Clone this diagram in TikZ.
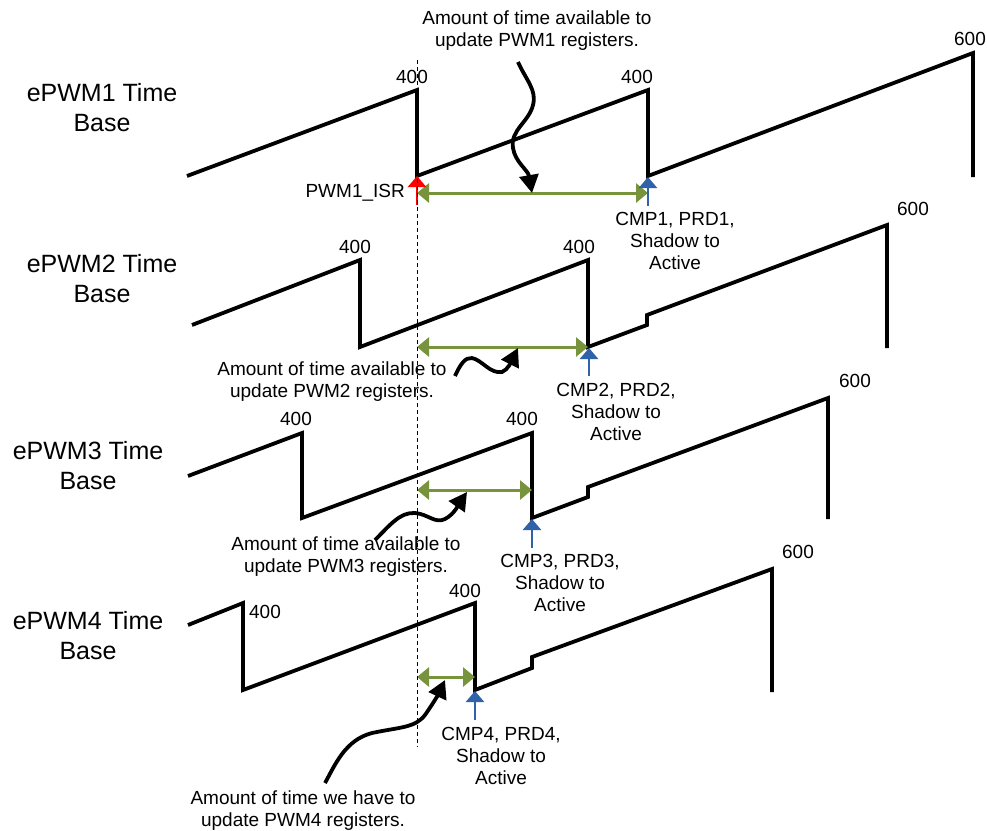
\documentclass[tikz,border=0pt]{standalone}
\usepackage{fontspec}
\setmainfont{Liberation Sans}
\usetikzlibrary{arrows.meta}
\definecolor{pgreen}{HTML}{77933C}
\definecolor{pblue}{HTML}{2F62A8}
\definecolor{pred}{HTML}{FF0000}
\begin{document}
\begin{tikzpicture}[x=1pt,y=-1pt,
  wave/.style={line width=3.8pt,line join=miter},
  lbl/.style={font=\fontsize{25}{30}\selectfont,align=center,inner sep=0pt},
  note/.style={font=\fontsize{19}{22}\selectfont,align=center,inner sep=0pt},
  num/.style={font=\fontsize{19}{22}\selectfont,inner sep=0pt,anchor=base},
  span/.style={draw=pgreen,line width=3pt,{Triangle[length=12pt,width=19pt]}-{Triangle[length=12pt,width=19pt]}},
  bluearr/.style={draw=pblue,line width=2.6pt,-{Triangle[length=11pt,width=18pt]}},
  redarr/.style={draw=pred,line width=2.6pt,-{Triangle[length=11pt,width=18pt]}},
  curly/.style={line width=3.8pt,-{Triangle[length=18pt,width=19pt]}},
  guide/.style={line width=0.8pt,dash pattern=on 4pt off 3pt}
]
\useasboundingbox (0,0) rectangle (987,830);

% left labels
\node[lbl] (t1) at (102,108) {ePWM1 Time\\Base};
\node[lbl] (t2) at (102,279) {ePWM2 Time\\Base};
\node[lbl] (t3) at (88,466) {ePWM3 Time\\Base};
\node[lbl] (t4) at (88,636) {ePWM4 Time\\Base};

% waveforms
\draw[wave] (187,176) -- (417,90) -- (417,176) -- (648,90) -- (648,176) -- (973,53) -- (973,177);
\draw[wave] (192,325) -- (360,260) -- (360,347) -- (588,260) -- (588,347) -- (647,325) -- (647,315) -- (887,225) -- (887,348);
\draw[wave] (188,476) -- (302,433) -- (302,518) -- (532,433) -- (532,518) -- (588,497) -- (588,487) -- (828,398) -- (828,519);
\draw[wave] (188,625) -- (243,603) -- (243,690) -- (475,603) -- (475,690) -- (532,668) -- (532,657) -- (772,569) -- (772,692);

% value labels
\node[num] (n1a) at (412,83) {400};
\node[num] (n1b) at (637,83) {400};
\node[num] (n1c) at (970,45) {600};
\node[num] (n2a) at (355,253) {400};
\node[num] (n2b) at (579,253) {400};
\node[num] (n2c) at (913,215) {600};
\node[num] (n3a) at (296,425) {400};
\node[num] (n3b) at (522,425) {400};
\node[num] (n3c) at (855,387) {600};
\node[num] (n4a) at (265,618) {400};
\node[num] (n4b) at (465,597) {400};
\node[num] (n4c) at (798,558) {600};

% coordinates for spans and markers
\coordinate (g1l) at (417,193); \coordinate (g1r) at (648,193);
\coordinate (g2l) at (417,347); \coordinate (g2r) at (588,347);
\coordinate (g3l) at (417,490); \coordinate (g3r) at (532,490);
\coordinate (g4l) at (417,677); \coordinate (g4r) at (475,677);

\coordinate (r1b) at (417,205); \coordinate (r1t) at (417,176);
\coordinate (b1b) at (648,206); \coordinate (b1t) at (648,177);
\coordinate (b2b) at (589,376); \coordinate (b2t) at (589,348);
\coordinate (b3b) at (532,548); \coordinate (b3t) at (532,519);
\coordinate (b4b) at (475,720); \coordinate (b4t) at (475,691);

% green spans
\draw[span] (g1l) -- (g1r);
\draw[span] (g2l) -- (g2r);
\draw[span] (g3l) -- (g3r);
\draw[span] (g4l) -- (g4r);

% event arrows
\draw[redarr] (r1b) -- (r1t);
\draw[bluearr] (b1b) -- (b1t);
\draw[bluearr] (b2b) -- (b2t);
\draw[bluearr] (b3b) -- (b3t);
\draw[bluearr] (b4b) -- (b4t);

% dashed guide
\coordinate (dtop) at (417,60); \coordinate (dbot) at (417,747);
\draw[guide] (dtop) -- (dbot);

% event labels
\node[note,anchor=base east] (isr) at (405,197) {PWM1\_ISR};
\node[note] (e1) at (675,241) {CMP1, PRD1,\\Shadow to\\Active};
\node[note] (e2) at (616,412) {CMP2, PRD2,\\Shadow to\\Active};
\node[note] (e3) at (560,583) {CMP3, PRD3,\\Shadow to\\Active};
\node[note] (e4) at (501,756) {CMP4, PRD4,\\Shadow to\\Active};

% notes
\node[note] (a1) at (537,31) {Amount of time available to\\update PWM1 registers.};
\node[note] (a2) at (332,382) {Amount of time available to\\update PWM2 registers.};
\node[note] (a3) at (346,557) {Amount of time available to\\update PWM3 registers.};
\node[note] (a4) at (303,811) {Amount of time we have to\\update PWM4 registers.};

% curly pointers
\coordinate (c1s) at (518,62); \coordinate (c1e) at (532,193);
\coordinate (c2s) at (455,376); \coordinate (c2e) at (518,348);
\coordinate (c3s) at (375,540); \coordinate (c3e) at (467,492);
\coordinate (c4s) at (325,783); \coordinate (c4e) at (445,680);
\draw[curly] (c1s) .. controls (526,80) and (537,90) .. (533,105) .. controls (529,122) and (510,130) .. (513,148) .. controls (515,162) and (528,170) .. (c1e);
\draw[curly] (c2s) .. controls (460,365) and (465,357) .. (472,358) .. controls (482,360) and (490,374) .. (502,372) .. controls (508,370) and (512,360) .. (c2e);
\draw[curly] (c3s) .. controls (390,525) and (400,512) .. (415,513) .. controls (428,514) and (435,524) .. (445,519) .. controls (455,514) and (460,502) .. (c3e);
\draw[curly] (c4s) .. controls (335,765) and (345,740) .. (372,733) .. controls (400,727) and (415,728) .. (425,715) .. controls (432,705) and (438,695) .. (c4e);
\end{tikzpicture}
\end{document}
